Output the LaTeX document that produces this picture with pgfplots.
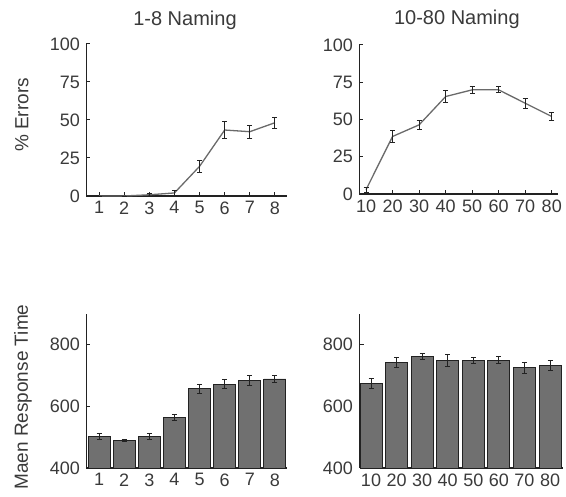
\documentclass[border=0pt]{standalone}
\usepackage{pgfplots}
\pgfplotsset{compat=1.18}
\usepackage{fontspec}
\setmainfont{Liberation Sans}
\definecolor{txt}{HTML}{3A3A3A}
\definecolor{axc}{HTML}{222222}
\definecolor{linec}{HTML}{6A6A6A}
\definecolor{barc}{HTML}{707070}
\pgfplotsset{
  mystyle/.style={
    scale only axis,
    axis lines=left,
    axis line style={axc, line width=1.3pt, -},
    tick align=inside,
    major tick length=4pt,
    tick style={axc, line width=1pt},
    /pgf/number format/assume math mode=true,
    ticklabel style={font=\fontsize{18}{20}\selectfont, text=txt},
    xticklabel style={yshift=-2pt},
    yticklabel style={xshift=-3pt},
    title style={font=\fontsize{20}{22}\selectfont, text=txt, anchor=base},
    ylabel style={font=\fontsize{19}{21}\selectfont, text=txt, rotate=0, anchor=center},
    clip=false,
  },
  myerr/.style={
    error bars/.cd, y dir=both, y explicit,
    error bar style={axc, line width=1pt},
    error mark options={rotate=90, mark size=2.5pt, axc, line width=0.9pt},
  },
}
\begin{document}
\begin{tikzpicture}
\useasboundingbox (0,0) rectangle (566pt,497pt);
% Top left
\begin{axis}[mystyle,
  at={(86.5pt,301pt)}, anchor=south west,
  width=201pt, height=152pt,
  xmin=0.5, xmax=8.5, ymin=0, ymax=100,
  xtick={1,...,8}, ytick={0,25,50,75,100},
  title={1-8 Naming},
  title style={at={(axis description cs:0.49,1.079)}},
  ylabel={\% Errors},
  ylabel style={at={(axis description cs:-0.321,0.533)}},
]
\addplot[linec, line width=1.3pt, mark=none, myerr] coordinates {
 (1,0) +- (0,0)
 (2,0) +- (0,0)
 (3,0.8) +- (0,0.8)
 (4,2) +- (0,1.5)
 (5,19.5) +- (0,3.8)
 (6,43.4) +- (0,5.5)
 (7,42.3) +- (0,4.4)
 (8,48.2) +- (0,3.8)
};
\end{axis}
% Top right
\begin{axis}[mystyle,
  at={(359.4pt,303pt)}, anchor=south west,
  width=199pt, height=149pt,
  xmin=7.5, xmax=82.5, ymin=0, ymax=100,
  xtick={10,20,...,80}, ytick={0,25,50,75,100},
  title={10-80 Naming},
  title style={at={(axis description cs:0.49,1.10)}},
]
\addplot[linec, line width=1.3pt, mark=none, myerr] coordinates {
 (10,2.9) +- (0,1.7)
 (20,38.6) +- (0,3.9)
 (30,46.4) +- (0,3)
 (40,65.4) +- (0,3.9)
 (50,69.9) +- (0,2.5)
 (60,69.9) +- (0,2)
 (70,60.9) +- (0,3.3)
 (80,52) +- (0,2.8)
};
\end{axis}
% Bottom left
\begin{axis}[mystyle,
  at={(86.5pt,29pt)}, anchor=south west,
  width=201pt, height=154pt,
  xmin=0.5, xmax=8.5, ymin=400, ymax=900,
  xtick={1,...,8}, ytick={400,600,800},
  ylabel={Maen Response Time},
  ylabel style={at={(axis description cs:-0.316,0.46)}},
]
\addplot[ybar, bar width=22pt, fill=barc, draw=axc, line width=0.9pt, myerr] coordinates {
 (1,502.7) +- (0,9.7)
 (2,489.7) +- (0,4)
 (3,502.7) +- (0,10)
 (4,564) +- (0,9)
 (5,657) +- (0,15)
 (6,672) +- (0,15)
 (7,683) +- (0,16)
 (8,689) +- (0,12)
};
\end{axis}
% Bottom right
\begin{axis}[mystyle,
  at={(359.5pt,29pt)}, anchor=south west,
  width=203.3pt, height=154pt,
  xmin=5.5, xmax=85, ymin=400, ymax=900,
  xtick={10,20,...,80}, ytick={400,600,800},
]
\addplot[ybar, bar width=22pt, fill=barc, draw=axc, line width=0.9pt, myerr] coordinates {
 (10,675) +- (0,16)
 (20,742) +- (0,17)
 (30,763) +- (0,10)
 (40,750) +- (0,19)
 (50,750) +- (0,9)
 (60,750) +- (0,11)
 (70,726) +- (0,18)
 (80,734) +- (0,16)
};
\end{axis}
\end{tikzpicture}
\end{document}
